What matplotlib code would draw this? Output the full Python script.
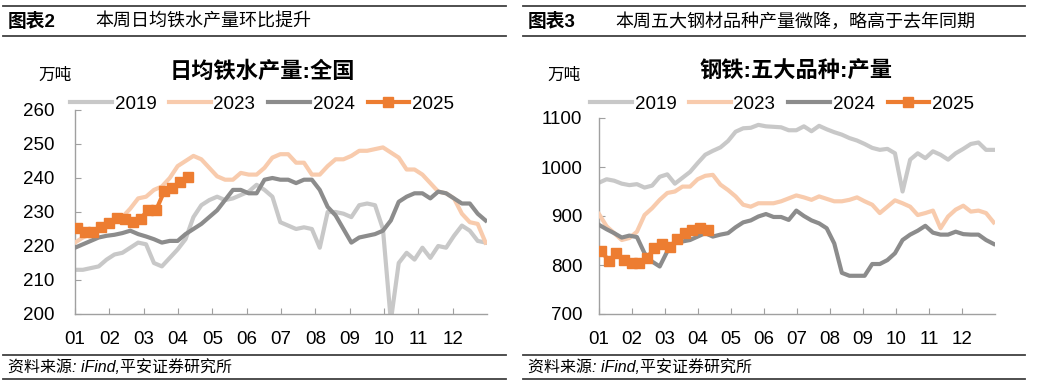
import numpy as np
import matplotlib
matplotlib.use("Agg")
import matplotlib.pyplot as plt
from matplotlib.lines import Line2D

plt.rcParams['font.family'] = ['Liberation Sans', 'Noto Sans CJK SC']
plt.rcParams['axes.unicode_minus'] = False

# ---- data (weekly values) ----
months = ['01', '02', '03', '04', '05', '06', '07', '08', '09', '10', '11', '12']
years = ['2019', '2023', '2024', '2025']
colors = ['#c8c8c8', '#f8cbad', '#8c8c8c', '#ed7d31']

iron_2019 = [213, 213, 213.5, 214, 216, 217.5, 218, 219.5, 221, 220.5, 215, 214, 216.5, 219, 222,
             228.5, 232, 233.5, 234.5, 233.5, 234, 235, 236, 238, 236.5, 234.5, 227, 226, 225, 225.5,
             225, 219.5, 230, 230, 229.5, 228.5, 232, 232.5, 232, 225, 198, 215, 218, 216, 219.5,
             216.5, 220, 219.5, 223, 226, 224.5, 221.5, 221]
iron_2023 = [221, 222.5, 223.5, 225, 226, 227, 228.5, 231, 234, 234.5, 236.5, 237.5, 240, 243.5, 245,
             246.5, 245.5, 243, 240.5, 239.5, 239.5, 241.5, 241, 241, 243, 246, 247, 247, 244.5, 244.5,
             241, 241, 243.5, 245.5, 245.5, 246.5, 248, 248, 248.5, 249, 247.5, 246, 242.5, 242.5, 241,
             238.5, 236, 235.5, 234, 229.5, 227, 226.5, 221]
iron_2024 = [219.5, 220.5, 221.5, 222.5, 223, 223.3, 223.8, 224.5, 223.5, 222.8, 222, 221, 221.5, 221.5,
             223.5, 225, 226.5, 228.5, 230.5, 233.5, 236.5, 236.5, 235.5, 235.5, 239.5, 240, 239.5,
             239.5, 238.5, 239.5, 239.5, 236.5, 231.5, 229, 225, 221, 222.5, 223, 223.5, 224.5, 227.5,
             233, 234.5, 235.5, 235.5, 234, 236, 235.5, 234, 232.5, 232.5, 229.5, 227.5]
iron_2025 = [225.4, 224.1, 224.2, 225.6, 226.8, 228.3, 227.8, 227.2, 228, 230.7, 230.7, 236.1, 237,
             238.7, 240.2]

steel_2019 = [968, 975, 972, 966, 963, 965, 958, 962, 980, 985, 966, 978, 990, 1008, 1025, 1033, 1040,
              1053, 1072, 1079, 1080, 1086, 1083, 1082, 1081, 1075, 1075, 1083, 1073, 1084, 1077, 1071,
              1066, 1059, 1054, 1047, 1039, 1035, 1037, 1028, 950, 1015, 1028, 1018, 1032, 1025, 1015,
              1028, 1037, 1047, 1050, 1035, 1035]
steel_2023 = [904, 879, 865, 851, 855, 868, 902, 916, 933, 947, 950, 960, 960, 975, 982, 984, 964, 953,
              940, 923, 919, 926, 926, 926, 930, 936, 942, 938, 933, 940, 935, 930, 930, 933, 938, 930,
              923, 906, 919, 932, 926, 919, 902, 906, 911, 875, 899, 913, 921, 909, 911, 906, 887]
steel_2024 = [882, 873, 865, 856, 860, 857, 824, 807, 797, 828, 848, 848, 851, 858, 865, 858, 862, 865,
              877, 887, 891, 899, 904, 898, 898, 892, 911, 900, 891, 885, 875, 844, 784, 778, 778, 778,
              802, 802, 810, 824, 851, 862, 870, 880, 866, 862, 862, 868, 863, 862, 862, 851, 843]
steel_2025 = [829, 808, 825, 810, 804, 805, 814, 834, 843, 836, 853, 866, 872, 875, 872]

week_offsets = [0, 0, 0, 0.3]
WEEK = 12 / 52.18  # one week in month units

W, H = 1041, 390
fig = plt.figure(figsize=(W / 100, H / 100), dpi=100)


def fx(px):
    return px / W


def fy(py):
    return 1 - py / H


def hline(x0, x1, y, lw=1.3):
    fig.add_artist(Line2D([fx(x0), fx(x1)], [fy(y), fy(y)], color='#404040', lw=lw))


def panel(rect, series, ylim, yticks, num, header, title, unit_x, title_x, leg_x, ypad):
    x0, x1 = rect[0], rect[1]
    # header block
    hline(x0, x1, 6)
    hline(x0, x1, 36)
    fig.text(fx(x0 + 5), fy(22), '图表' + num, fontsize=13.5, fontweight='bold', va='center')
    fig.text(fx(x0 + 92), fy(22), header, fontsize=13, va='center')
    # footer block
    hline(x0, x1, 355)
    hline(x0, x1, 379)
    fig.text(fx(x0 + 5), fy(367.5), '资料来源: iFind,平安证券研究所', fontsize=11.5,
             style='italic', va='center')

    ax = fig.add_axes([fx(rect[2]), fy(rect[5]), fx(rect[3] - rect[2]), (rect[5] - rect[4]) / H])
    for i, (vals, yr, c) in enumerate(zip(series, years, colors)):
        x = (np.arange(len(vals)) + week_offsets[i]) * WEEK
        if yr == '2025':
            ax.plot(x, vals, color=c, lw=3, marker='s', markersize=7, label=yr, zorder=5)
        else:
            ax.plot(x, vals, color=c, lw=3, label=yr, zorder=2 + i)
    ax.set_xlim(0, 12)
    ax.set_ylim(*ylim)
    ax.set_yticks(yticks)
    ax.set_xticks(np.arange(12))
    ax.set_xticklabels(months)
    for s in ['top', 'right']:
        ax.spines[s].set_visible(False)
    for s in ['left', 'bottom']:
        ax.spines[s].set_color('#a0a0a0')
        ax.spines[s].set_linewidth(1)
    ax.tick_params(axis='both', direction='in', length=4, color='#a0a0a0', labelsize=13.5)
    ax.tick_params(axis='x', pad=12)
    ax.tick_params(axis='y', pad=ypad)

    fig.text(fx(title_x), fy(72), title, fontsize=16, fontweight='bold', ha='center', va='center')
    fig.text(fx(unit_x), fy(75), '万吨', fontsize=12, ha='center', va='center')
    ax.legend(loc='center', bbox_to_anchor=(fx(leg_x), fy(104)), bbox_transform=fig.transFigure,
              ncol=4, frameon=False, fontsize=13.5, handlelength=2.2, handletextpad=0.15,
              columnspacing=0.7, numpoints=1)
    return ax


panel((3, 506, 75, 487, 110, 314), [iron_2019, iron_2023, iron_2024, iron_2025], (200, 260),
      range(200, 261, 10), '2', '本周日均铁水产量环比提升', '日均铁水产量:全国', 55, 262, 262, 15)
panel((523, 1025, 599, 995, 118, 314), [steel_2019, steel_2023, steel_2024, steel_2025], (700, 1100),
      range(700, 1101, 100), '3', '本周五大钢材品种产量微降，略高于去年同期', '钢铁:五大品种:产量',
      564, 796, 782, 12)

fig.savefig('out.png', dpi=100)
